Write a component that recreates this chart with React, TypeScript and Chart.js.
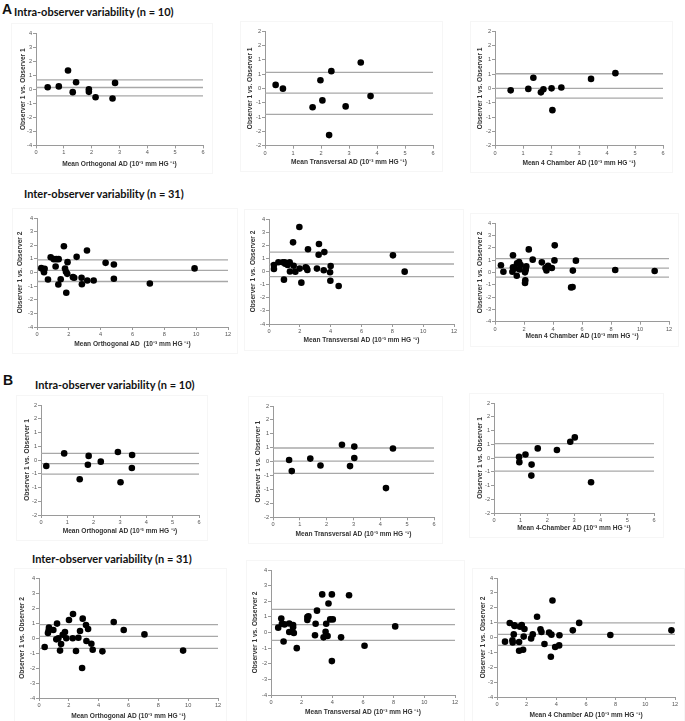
import React, { useEffect, useRef } from "react";
import { Chart, registerables } from "chart.js";
Chart.register(...registerables);

// ---------- tick labels ----------
const yTicksFull = ["-4", "-3", "-2", "-1", "0", "1", "2", "3", "4"];
const yTicksHalf = ["-2", "-2", "-1", "-1", "0", "1", "1", "2", "2"];
const xTicks6 = ["0", "1", "2", "3", "4", "5", "6"];
const xTicks12 = ["0", "2", "4", "6", "8", "10", "12"];

// ---------- A: intra-observer ----------
const aIntraOrthX = [0.42, 0.82, 1.15, 1.44, 1.32, 1.9, 1.9, 2.14, 2.75, 2.84];
const aIntraOrthY = [0.14, 0.2, 1.33, 0.5, -0.21, 0.0, -0.19, -0.57, -0.66, 0.45];
const aIntraOrthLimits = [0.66, 0.12, -0.47];

const aIntraTransX = [0.38, 0.64, 1.7, 1.98, 2.05, 2.37, 2.29, 2.88, 3.42, 3.77];
const aIntraTransY = [0.12, -0.01, -0.66, 0.28, -0.42, 0.6, -1.63, -0.63, 0.9, -0.27];
const aIntraTransLimits = [0.56, -0.17, -0.91];

const aIntra4chX = [0.56, 1.19, 1.37, 1.64, 1.73, 2.02, 2.37, 2.05, 3.43, 4.3];
const aIntra4chY = [-0.07, -0.02, 0.37, -0.14, -0.03, 0.0, 0.03, -0.76, 0.33, 0.53];
const aIntra4chLimits = [0.51, 0.0, -0.34];

// ---------- A: inter-observer ----------
const aInterOrthX = [0.27, 0.48, 0.44, 0.4, 0.69, 0.86, 1.05, 1.21, 1.36, 1.17, 1.34, 1.49, 1.69, 1.76, 1.82, 1.9, 1.92, 1.84, 2.26, 2.34, 2.49, 2.8, 2.82, 3.16, 3.14, 3.56, 4.31, 4.83, 4.83, 7.09, 9.9];
const aInterOrthY = [0.32, 0.27, 0.02, 0.22, -0.51, 1.12, 0.98, 0.98, 0.98, 0.44, -0.88, -0.49, 1.93, 0.29, 0.05, -0.1, 0.76, -1.49, -0.34, -0.39, 1.15, -0.39, -0.86, -0.59, 1.61, -0.59, 0.71, 0.59, -0.46, -0.81, 0.3];
const aInterOrthLimits = [0.93, 0.15, -0.66];

const aInterTransX = [0.32, 0.32, 0.61, 0.89, 1.02, 1.05, 0.97, 1.21, 1.34, 1.36, 1.56, 1.6, 1.71, 1.97, 1.99, 2.1, 2.38, 2.45, 2.49, 2.53, 3.11, 3.24, 3.22, 3.59, 3.55, 3.96, 4.0, 3.98, 4.52, 8.04, 8.8];
const aInterTransY = [0.49, 0.19, 0.71, 0.71, 0.71, 0.6, -0.62, 0.49, 0.71, 0.0, 2.22, 0.44, -0.01, 3.39, 0.22, -0.85, 0.32, 0.25, 0.11, 1.69, 0.22, 2.09, 1.28, 1.48, 0.09, -0.06, 0.42, -0.7, -1.1, 1.23, -0.01];
const aInterTransLimits = [1.48, 0.57, -0.39];

const aInter4chX = [0.41, 0.58, 1.24, 1.24, 1.2, 1.38, 1.5, 1.52, 1.66, 1.7, 1.77, 2.07, 2.07, 2.09, 2.16, 2.12, 2.33, 2.6, 3.23, 3.48, 3.55, 3.66, 3.92, 4.12, 4.1, 5.37, 5.58, 5.25, 5.35, 8.29, 11.01];
const aInter4chY = [0.57, 0.05, 1.38, 0.41, 0.05, 0.32, -0.27, 0.73, 0.84, 0.24, 0.59, 0.0, -0.86, -0.65, 0.49, 0.22, 1.86, 1.03, 0.81, 0.35, 0.16, 0.54, 0.35, 2.19, 0.97, 0.14, 0.95, -1.22, -1.19, 0.19, 0.11];
const aInter4chLimits = [1.11, 0.35, -0.38];

// ---------- B: intra-observer ----------
const bIntraOrthX = [0.2, 0.88, 1.47, 1.81, 1.78, 2.27, 2.92, 3.02, 3.46, 3.45];
const bIntraOrthY = [-0.22, 0.24, -0.7, 0.15, -0.17, -0.06, 0.29, -0.81, 0.18, -0.29];
const bIntraOrthLimits = [0.24, -0.13, -0.51];

const bIntraTransX = [0.6, 0.7, 1.39, 1.77, 2.57, 2.87, 3.03, 3.03, 4.21, 4.47];
const bIntraTransY = [0.06, -0.34, 0.11, -0.14, 0.61, -0.16, 0.54, 0.13, -0.95, 0.47];
const bIntraTransLimits = [0.49, 0.02, -0.42];

const bIntra4chX = [0.94, 0.95, 1.18, 1.41, 1.4, 1.64, 2.36, 2.86, 3.03, 3.64];
const bIntra4chY = [0.04, -0.15, 0.13, -0.24, -0.64, 0.35, 0.29, 0.59, 0.75, -0.88];
const bIntra4chLimits = [0.52, 0.02, -0.48];

// ---------- B: inter-observer ----------
const bInterOrthX = [0.38, 0.6, 0.65, 0.67, 0.96, 1.21, 1.16, 1.3, 1.41, 1.48, 1.59, 1.74, 1.83, 2.01, 2.28, 2.26, 2.48, 2.64, 2.75, 2.93, 2.89, 3.15, 3.18, 3.29, 3.51, 3.6, 4.25, 5.01, 5.68, 7.07, 9.66];
const bInterOrthY = [-0.6, 0.33, 0.51, 0.69, 0.53, 0.96, -0.09, -0.02, -0.84, -0.4, 0.22, 0.4, -0.02, 1.2, 1.6, -0.02, -0.87, 0.02, 0.47, 1.29, -2.0, 0.87, -0.2, 0.6, -0.38, -0.78, -0.89, 1.07, 0.53, 0.24, -0.84];
const bInterOrthLimits = [0.89, 0.11, -0.69];

const bInterTransX = [0.47, 0.67, 0.71, 0.88, 0.82, 1.19, 1.19, 1.44, 1.44, 1.49, 1.68, 2.37, 2.44, 2.37, 3.0, 2.91, 2.87, 3.34, 3.43, 3.6, 3.56, 3.69, 3.75, 3.86, 4.03, 3.97, 3.97, 4.57, 5.09, 6.1, 8.1];
const bInterTransY = [0.31, 0.9, 0.56, 0.52, -0.58, 0.58, 0.03, 0.48, 0.33, -0.03, -1.0, 0.99, 1.03, 0.8, 1.4, 0.56, -0.18, 2.44, -0.31, 0.56, 0.05, -0.22, 1.86, 0.84, 0.84, 2.44, -1.83, -0.31, 2.38, -0.85, 0.39];
const bInterTransLimits = [1.48, 0.5, -0.5];

const bInter4chX = [0.54, 0.86, 1.06, 1.04, 1.17, 1.19, 1.13, 1.49, 1.55, 1.67, 1.49, 1.76, 1.8, 1.85, 2.3, 2.41, 2.7, 2.93, 3.0, 3.2, 3.51, 3.63, 3.67, 3.74, 3.92, 4.19, 4.21, 5.11, 5.54, 7.64, 11.76];
const bInter4chY = [-0.28, 0.97, -0.33, -0.19, 0.82, 0.78, 0.21, -0.3, 0.73, 0.84, -0.89, -0.82, 0.06, 0.57, -0.06, 0.21, 1.4, 0.55, 0.37, -0.44, 0.33, -1.29, 0.19, 2.49, -0.64, -0.53, 0.15, 0.48, 0.98, 0.17, 0.48];
const bInter4chLimits = [0.98, 0.21, -0.53];

// ---------- texts ----------
const unit = "(10\u207B\u00B3 mm HG \u207B\u00B9)";
const yIntra = "Observer 1 vs. Observer 1";
const yInter = "Observer 1 vs. Observer 2";

type Cfg = {
  xs: number[]; ys: number[]; limits: number[];
  xTitle: string; yTitle: string;
  xMax: number; xStep: number; xLabels: string[];
  yMin: number; yMax: number; yStep: number; yLabels: string[];
  L: number; T: number; R: number; B: number; yTitleDist: number; xTitleY: number;
};

const panels: Cfg[] = [
  { xs: aIntraOrthX, ys: aIntraOrthY, limits: aIntraOrthLimits, xTitle: "Mean Orthogonal AD " + unit, yTitle: yIntra, xMax: 6, xStep: 1, xLabels: xTicks6, yMin: -4, yMax: 4, yStep: 1, yLabels: yTicksFull, L: 36, T: 33.3, R: 203, B: 145.7, yTitleDist: 13, xTitleY: 164 },
  { xs: aIntraTransX, ys: aIntraTransY, limits: aIntraTransLimits, xTitle: "Mean Transversal AD " + unit, yTitle: yIntra, xMax: 6, xStep: 1, xLabels: xTicks6, yMin: -2, yMax: 2, yStep: 0.5, yLabels: yTicksHalf, L: 265.3, T: 31, R: 433.3, B: 145.7, yTitleDist: 15.3, xTitleY: 161.7 },
  { xs: aIntra4chX, ys: aIntra4chY, limits: aIntra4chLimits, xTitle: "Mean 4 Chamber AD " + unit, yTitle: yIntra, xMax: 6, xStep: 1, xLabels: xTicks6, yMin: -2, yMax: 2, yStep: 0.5, yLabels: yTicksHalf, L: 495.3, T: 31, R: 663.3, B: 145.7, yTitleDist: 15, xTitleY: 163 },
  { xs: aInterOrthX, ys: aInterOrthY, limits: aInterOrthLimits, xTitle: "Mean Orthogonal AD  " + unit, yTitle: yInter, xMax: 12, xStep: 2, xLabels: xTicks12, yMin: -4, yMax: 4, yStep: 1, yLabels: yTicksFull, L: 36.7, T: 218.3, R: 228, B: 327.3, yTitleDist: 16.7, xTitleY: 344 },
  { xs: aInterTransX, ys: aInterTransY, limits: aInterTransLimits, xTitle: "Mean Transversal AD " + unit, yTitle: yInter, xMax: 12, xStep: 2, xLabels: xTicks12, yMin: -4, yMax: 4, yStep: 1, yLabels: yTicksFull, L: 268.7, T: 219.3, R: 453.7, B: 324.3, yTitleDist: 15.7, xTitleY: 340.7 },
  { xs: aInter4chX, ys: aInter4chY, limits: aInter4chLimits, xTitle: "Mean 4 Chamber AD " + unit, yTitle: yInter, xMax: 12, xStep: 2, xLabels: xTicks12, yMin: -4, yMax: 4, yStep: 1, yLabels: yTicksFull, L: 495.3, T: 223.3, R: 669, B: 322, yTitleDist: 15.3, xTitleY: 336.7 },
  { xs: bIntraOrthX, ys: bIntraOrthY, limits: bIntraOrthLimits, xTitle: "Mean Orthogonal AD " + unit, yTitle: yIntra, xMax: 6, xStep: 1, xLabels: xTicks6, yMin: -2, yMax: 2, yStep: 0.5, yLabels: yTicksHalf, L: 40.7, T: 405, R: 198.3, B: 515, yTitleDist: 14, xTitleY: 531 },
  { xs: bIntraTransX, ys: bIntraTransY, limits: bIntraTransLimits, xTitle: "Mean Transversal AD " + unit, yTitle: yIntra, xMax: 6, xStep: 1, xLabels: xTicks6, yMin: -2, yMax: 2, yStep: 0.5, yLabels: yTicksHalf, L: 272.7, T: 406, R: 433.3, B: 517.3, yTitleDist: 14.7, xTitleY: 534 },
  { xs: bIntra4chX, ys: bIntra4chY, limits: bIntra4chLimits, xTitle: "Mean 4-Chamber AD " + unit, yTitle: yIntra, xMax: 6, xStep: 1, xLabels: xTicks6, yMin: -2, yMax: 2, yStep: 0.5, yLabels: yTicksHalf, L: 494.3, T: 402.7, R: 654.3, B: 512.7, yTitleDist: 14.3, xTitleY: 528 },
  { xs: bInterOrthX, ys: bInterOrthY, limits: bInterOrthLimits, xTitle: "Mean Orthogonal AD " + unit, yTitle: yInter, xMax: 12, xStep: 2, xLabels: xTicks12, yMin: -4, yMax: 4, yStep: 1, yLabels: yTicksFull, L: 38.7, T: 578.3, R: 217.3, B: 698.3, yTitleDist: 17, xTitleY: 716.5 },
  { xs: bInterTransX, ys: bInterTransY, limits: bInterTransLimits, xTitle: "Mean Transversal AD " + unit, yTitle: yInter, xMax: 12, xStep: 2, xLabels: xTicks12, yMin: -4, yMax: 4, yStep: 1, yLabels: yTicksFull, L: 270.7, T: 570, R: 455, B: 695, yTitleDist: 15.7, xTitleY: 712.3 },
  { xs: bInter4chX, ys: bInter4chY, limits: bInter4chLimits, xTitle: "Mean 4 Chamber AD " + unit, yTitle: yInter, xMax: 12, xStep: 2, xLabels: xTicks12, yMin: -4, yMax: 4, yStep: 1, yLabels: yTicksFull, L: 497.3, T: 577.7, R: 675, B: 696.7, yTitleDist: 14.3, xTitleY: 715 },
];

const YW = 30; // y-axis box width
const PT = 6;  // top padding
const PR = 6;  // right padding
const TITLE_FONT = 6.6;
const TICK_FONT = 5.6;
const FAMILY = "'Liberation Sans', Arial, sans-serif";

function Panel({ cfg }: { cfg: Cfg }) {
  const ref = useRef<HTMLCanvasElement>(null);
  const left = cfg.L - YW;
  const top = cfg.T - PT;
  const lh = TITLE_FONT * 1.2;
  const bottomAbs = cfg.xTitleY + lh / 2;
  const w = Math.round(cfg.R + PR - left);
  const h = Math.round(bottomAbs - top);
  const xAxisH = h - (cfg.B - top);

  useEffect(() => {
    if (!ref.current) return;
    const lineSets = cfg.limits.map((v) => ({
      type: "line" as const,
      data: [{ x: 0, y: v }, { x: cfg.xMax, y: v }],
      borderColor: "#a8a8a8",
      borderWidth: 1.3,
      pointRadius: 0,
      order: 2,
    }));
    const chart = new Chart(ref.current, {
      type: "scatter",
      data: {
        datasets: [
          ...lineSets,
          {
            type: "scatter" as const,
            data: cfg.xs.map((x, i) => ({ x, y: cfg.ys[i] })),
            backgroundColor: "#000",
            borderColor: "#000",
            borderWidth: 0,
            pointRadius: 3.3,
            order: 1,
          },
        ] as any,
      },
      options: {
        animation: false,
        responsive: false,
        maintainAspectRatio: false,
        devicePixelRatio: 1,
        layout: { padding: { left: 0, top: PT, right: PR, bottom: 0 } },
        plugins: { legend: { display: false }, tooltip: { enabled: false } },
        scales: {
          x: {
            type: "linear",
            min: 0,
            max: cfg.xMax,
            ticks: {
              stepSize: cfg.xStep,
              autoSkip: false,
              maxRotation: 0,
              padding: 1,
              color: "#555",
              font: { family: FAMILY, size: TICK_FONT },
              callback: (_v: any, i: number) => cfg.xLabels[i],
            },
            grid: { drawOnChartArea: false, drawTicks: true, tickLength: 3, color: "#9a9a9a" },
            border: { display: true, color: "#9a9a9a", width: 1 },
            title: {
              display: true,
              text: cfg.xTitle,
              color: "#333",
              font: { family: FAMILY, size: TITLE_FONT, weight: "bold" },
              padding: 0,
            },
            afterFit: (s: any) => { s.height = xAxisH; },
          },
          y: {
            type: "linear",
            min: cfg.yMin,
            max: cfg.yMax,
            ticks: {
              stepSize: cfg.yStep,
              autoSkip: false,
              padding: 1,
              color: "#555",
              font: { family: FAMILY, size: TICK_FONT },
              callback: (_v: any, i: number) => cfg.yLabels[i],
            },
            grid: { drawOnChartArea: false, drawTicks: true, tickLength: 3, color: "#9a9a9a" },
            border: { display: true, color: "#9a9a9a", width: 1 },
            title: {
              display: true,
              text: cfg.yTitle,
              color: "#333",
              font: { family: FAMILY, size: TITLE_FONT, weight: "bold" },
              padding: { top: YW - cfg.yTitleDist - lh / 2, bottom: 0 },
            },
            afterFit: (s: any) => { s.width = YW; },
          },
        },
      } as any,
    });
    return () => chart.destroy();
  }, []);

  return (
    <canvas
      ref={ref}
      width={w}
      height={h}
      style={{ position: "absolute", left, top, width: w, height: h }}
    />
  );
}

function FaintBox({ cfg }: { cfg: Cfg }) {
  const l = cfg.L - 25, r = cfg.R + 10, t = cfg.T - 10, b = cfg.xTitleY + 10;
  return (
    <div
      style={{
        position: "absolute", left: l, top: t, width: r - l, height: b - t,
        border: "1px solid #f6f6f6", boxSizing: "border-box",
      }}
    />
  );
}

const headingStyle: React.CSSProperties = {
  position: "absolute",
  fontFamily: "Lato, 'Open Sans', sans-serif",
  fontWeight: 700,
  fontSize: 11,
  lineHeight: "14px",
  whiteSpace: "nowrap",
  color: "#111",
};
const letterStyle: React.CSSProperties = {
  position: "absolute",
  fontFamily: "'Liberation Sans', Arial, sans-serif",
  fontWeight: 700,
  fontSize: 14,
  lineHeight: "16px",
  color: "#111",
};

export default function App() {
  return (
    <div style={{ position: "absolute", left: 0, top: 0, width: 685, height: 721, background: "#fff", overflow: "hidden" }}>
      {panels.map((p, i) => <FaintBox key={"b" + i} cfg={p} />)}
      <div style={{ ...letterStyle, left: 2, top: 1 }}>A</div>
      <div style={{ ...headingStyle, left: 14, top: 5 }}>Intra-observer variability (n = 10)</div>
      <div style={{ ...headingStyle, left: 24, top: 187 }}>Inter-observer variability (n = 31)</div>
      <div style={{ ...letterStyle, left: 3, top: 372 }}>B</div>
      <div style={{ ...headingStyle, left: 35, top: 378 }}>Intra-observer variability (n = 10)</div>
      <div style={{ ...headingStyle, left: 32, top: 552 }}>Inter-observer variability (n = 31)</div>
      {panels.map((p, i) => <Panel key={"p" + i} cfg={p} />)}
    </div>
  );
}
